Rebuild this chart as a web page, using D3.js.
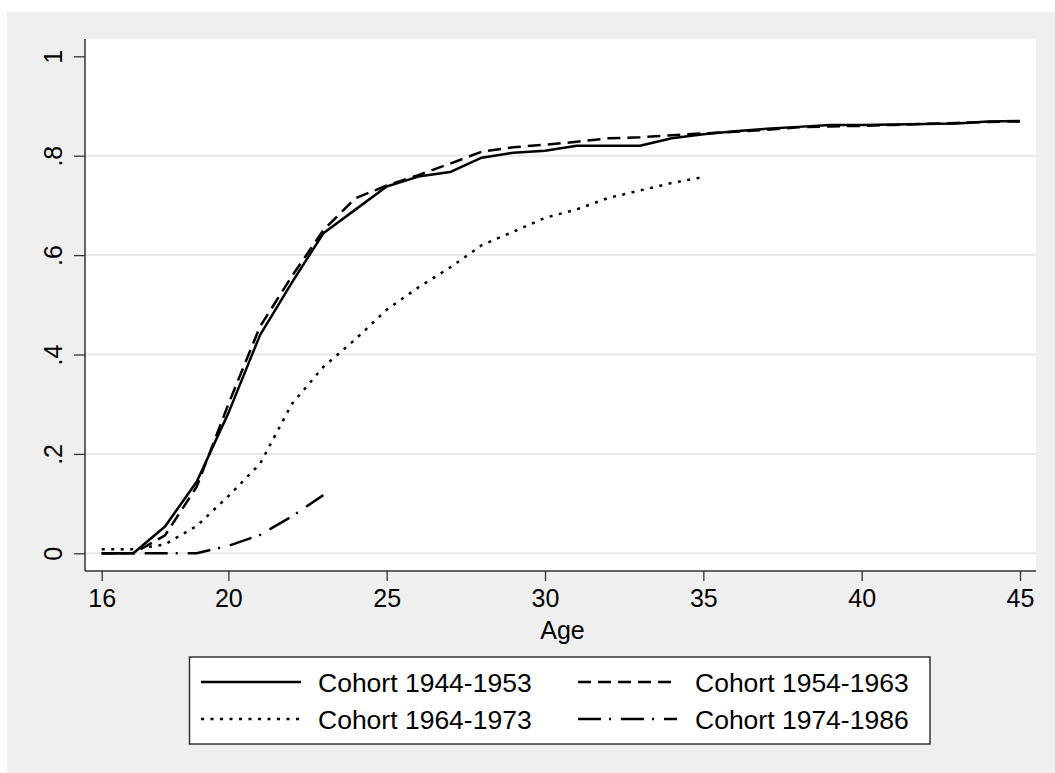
<!DOCTYPE html>
<html>
<head>
<meta charset="utf-8">
<script src="https://cdn.jsdelivr.net/npm/d3@7"></script>
<style>
  html, body { margin: 0; padding: 0; background: #ffffff; }
  svg { display: block; }
  text { font-family: "Liberation Sans", Arial, sans-serif; fill: #000; }
</style>
</head>
<body>
<svg id="chart" width="1055" height="773"></svg>
<script>
// Share of each birth cohort that has reached the event, by age
const ages = d3.range(16, 46);

const cohort1944 = [0, 0, 0.054, 0.144, 0.282, 0.439, 0.544, 0.644, 0.691, 0.738,
  0.758, 0.767, 0.796, 0.806, 0.810, 0.820, 0.820, 0.820, 0.835, 0.843,
  0.849, 0.854, 0.858, 0.862, 0.862, 0.863, 0.864, 0.865, 0.869, 0.870];

const cohort1954 = [0, 0, 0.036, 0.134, 0.300, 0.456, 0.557, 0.650, 0.714, 0.740,
  0.761, 0.784, 0.808, 0.817, 0.822, 0.828, 0.835, 0.837, 0.841, 0.845,
  0.848, 0.852, 0.857, 0.859, 0.860, 0.862, 0.864, 0.866, 0.868, 0.869];

const ages1964 = d3.range(16, 36);
const cohort1964 = [0.008, 0.008, 0.018, 0.055, 0.115, 0.180, 0.300, 0.375, 0.430, 0.490,
  0.535, 0.575, 0.620, 0.647, 0.675, 0.692, 0.715, 0.730, 0.745, 0.757];

const ages1974 = d3.range(16, 24);
const cohort1974 = [0, 0, 0, 0, 0.015, 0.037, 0.074, 0.117];

const xTicks = [16, 20, 25, 30, 35, 40, 45];
const yTicks = [0, 0.2, 0.4, 0.6, 0.8, 1];
const yTickLabels = ["0", ".2", ".4", ".6", ".8", "1"];

const seriesNames = ["Cohort 1944-1953", "Cohort 1954-1963", "Cohort 1964-1973", "Cohort 1974-1986"];

const series = [
  { name: seriesNames[0], x: ages, y: cohort1944, dash: null },
  { name: seriesNames[1], x: ages, y: cohort1954, dash: "13,7" },
  { name: seriesNames[2], x: ages1964, y: cohort1964, dash: "3,6.5" },
  { name: seriesNames[3], x: ages1974, y: cohort1974, dash: "23,8,2,10" }
];

const svg = d3.select("#chart");

// Outer graph region
svg.append("rect").attr("x", 7).attr("y", 12).attr("width", 1048).attr("height", 761)
  .attr("fill", "#efefef");

// Plot region
const plot = { left: 85, right: 1036, top: 39, bottom: 571 };
svg.append("rect").attr("x", plot.left).attr("y", plot.top)
  .attr("width", plot.right - plot.left).attr("height", plot.bottom - plot.top)
  .attr("fill", "#ffffff");

const x = d3.scaleLinear().domain([16, 45]).range([101.7, 1020]);
const y = d3.scaleLinear().domain([0, 1]).range([553.3, 56.3]);

// Horizontal grid lines
svg.append("g").selectAll("line").data(yTicks.slice(0, -1)).join("line")
  .attr("x1", plot.left).attr("x2", plot.right)
  .attr("y1", d => y(d)).attr("y2", d => y(d))
  .attr("stroke", "#e8e8e8").attr("stroke-width", 2);

// Y axis
const yAxis = svg.append("g").attr("transform", `translate(${plot.left},0)`)
  .call(d3.axisLeft(y).tickValues(yTicks).tickSize(11).tickPadding(0)
    .tickFormat((d, i) => yTickLabels[i]));
yAxis.select(".domain").attr("d", `M0,${plot.top}V${plot.bottom}`)
  .attr("stroke", "#333").attr("stroke-width", 1.5);
yAxis.selectAll(".tick line").attr("stroke", "#333").attr("stroke-width", 1.3);
yAxis.selectAll(".tick text")
  .attr("transform", "translate(-32,0) rotate(-90)")
  .attr("x", 0).attr("y", 0).attr("dy", "0.36em")
  .attr("text-anchor", "middle")
  .style("font-size", "25px").style("font-family", "Liberation Sans, Arial, sans-serif")
  .attr("fill", "#000");

// X axis
const xAxis = svg.append("g").attr("transform", `translate(0,${plot.bottom})`)
  .call(d3.axisBottom(x).tickValues(xTicks).tickSize(10).tickPadding(8)
    .tickFormat(d3.format("d")));
xAxis.select(".domain").attr("d", `M${plot.left},0H${plot.right}`)
  .attr("stroke", "#333").attr("stroke-width", 1.5);
xAxis.selectAll(".tick line").attr("stroke", "#333").attr("stroke-width", 1.3);
xAxis.selectAll(".tick text")
  .style("font-size", "25px").style("font-family", "Liberation Sans, Arial, sans-serif")
  .attr("fill", "#000");

svg.append("text").attr("x", (plot.left + plot.right) / 2 + 2).attr("y", 639)
  .attr("text-anchor", "middle").style("font-size", "25px").text("Age");

// Cohort curves
const line = d3.line().x(d => x(d[0])).y(d => y(d[1]));
svg.append("g").selectAll("path").data(series).join("path")
  .attr("d", s => line(s.x.map((a, i) => [a, s.y[i]])))
  .attr("fill", "none").attr("stroke", "#000").attr("stroke-width", 2.5)
  .attr("stroke-linejoin", "round")
  .attr("stroke-dasharray", s => s.dash);

// Legend
const legend = svg.append("g");
legend.append("rect").attr("x", 189.5).attr("y", 657).attr("width", 740.5).attr("height", 87)
  .attr("fill", "#fff").attr("stroke", "#333").attr("stroke-width", 1.5);

const cols = [{ x1: 201, x2: 301, tx: 318 }, { x1: 578, x2: 677, tx: 695 }];
const rows = [682, 719];
const items = legend.selectAll("g.item").data(series).join("g").attr("class", "item")
  .attr("transform", (s, i) => `translate(0,${rows[Math.floor(i / 2)]})`);
items.append("line")
  .attr("x1", (s, i) => cols[i % 2].x1).attr("x2", (s, i) => cols[i % 2].x2)
  .attr("y1", 0).attr("y2", 0)
  .attr("stroke", "#000").attr("stroke-width", 2.5)
  .attr("stroke-dasharray", s => s.dash);
items.append("text")
  .attr("x", (s, i) => cols[i % 2].tx).attr("y", 0).attr("dy", "0.36em")
  .style("font-size", "26.5px").text(s => s.name);
</script>
</body>
</html>
